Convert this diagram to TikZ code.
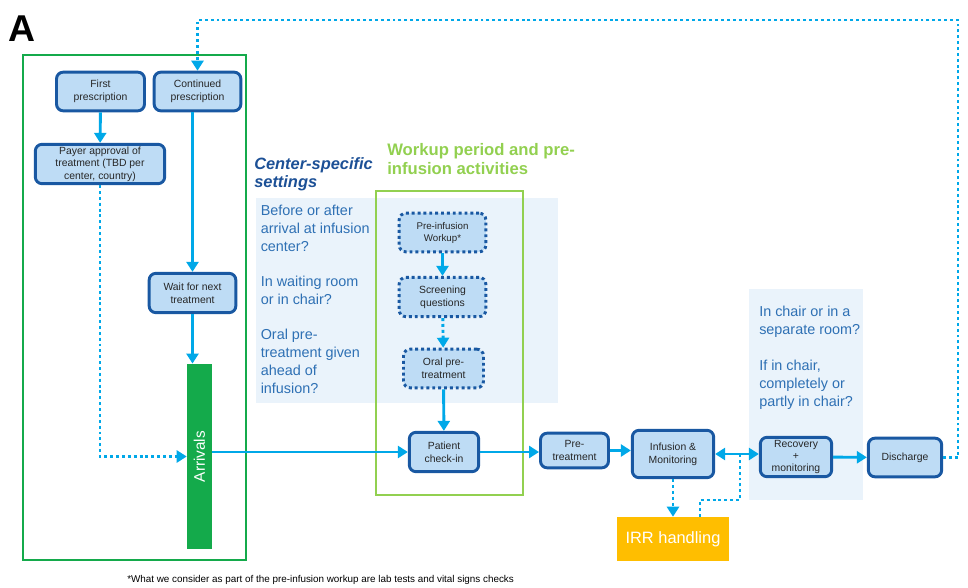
\documentclass[tikz,border=0pt]{standalone}
\usepackage{fontspec}
\setmainfont{Liberation Sans}
\usetikzlibrary{arrows.meta, calc, positioning}
\definecolor{flowblue}{RGB}{0,168,232}
\definecolor{boxfill}{RGB}{190,220,245}
\definecolor{boxline}{RGB}{25,88,162}
\definecolor{qblue}{RGB}{46,112,180}
\definecolor{headblue}{RGB}{28,80,150}
\definecolor{framegreen}{RGB}{20,170,75}
\definecolor{limegreen}{RGB}{146,208,80}
\definecolor{panelblue}{RGB}{234,243,251}
\definecolor{irrorange}{RGB}{255,190,0}

\begin{document}
\begin{tikzpicture}[x=0.75pt,y=-0.75pt,
    stepbox/.style={draw=boxline, fill=boxfill, line width=2.2pt, rounded corners=5pt, align=center,
        text=black!85, font=\fontsize{7.8}{9.5}\selectfont, inner sep=1pt},
    dotbox/.style={stepbox, dash pattern=on 2.2pt off 2.2pt},
    flow/.style={draw=flowblue, line width=2.2pt, -{Triangle[length=7.5pt,width=9pt]}},
    dotflow/.style={flow, dash pattern=on 2.2pt off 2.2pt},
    dotline/.style={draw=flowblue, line width=2.2pt, dash pattern=on 2.2pt off 2.2pt},
    question/.style={anchor=base west, align=left, inner sep=0pt, text=qblue, font=\fontsize{10.8}{13.3}\selectfont},
    greenframe/.style={line width=2.2pt}]
    \useasboundingbox (0,0) rectangle (968,588);
    % light panels behind the questions
    \fill[panelblue] (256,198) rectangle (558,403);
    \fill[panelblue] (749,289) rectangle (863,500);
    \draw[greenframe, draw=framegreen] (23,55) rectangle (246,560);
    \draw[greenframe, draw=limegreen] (376,191) rectangle (523,495);
    \node[anchor=base west, inner sep=0pt, font=\bfseries\fontsize{28}{30}\selectfont] (panel) at (8,42) {A};
    % prescription side
    \node[stepbox, minimum width=66pt, minimum height=29pt] (first) at (100.5,91.5) {First\\prescription};
    \node[stepbox, minimum width=65pt, minimum height=29pt] (cont) at (197.5,91.5) {Continued\\prescription};
    \node[stepbox, minimum width=97pt, minimum height=29.5pt] (payer) at (100,164) {Payer approval of\\treatment (TBD per\\center, country)};
    \node[stepbox, minimum width=65pt, minimum height=29.5pt] (wait) at (192.5,293) {Wait for next\\treatment};
    \node[fill=framegreen, minimum width=18.75pt, minimum height=139pt, inner sep=0pt] (arrivals) at (199.5,456.5) {};
    \node[rotate=90, text=white, font=\fontsize{11.5}{14}\selectfont] (arrivtext) at (arrivals) {Arrivals};
    % center-specific settings
    \node[anchor=base west, align=left, inner sep=0pt, text=headblue, font=\bfseries\itshape\fontsize{12.3}{13.5}\selectfont] (centerhead) at (254,188) {Center-specific\\settings};
    \node[question] (qleft) at (260.5,393) {Before or after\\arrival at infusion\\center?\\[13.3pt]In waiting room\\or in chair?\\[13.3pt]Oral pre-\\treatment given\\ahead of\\infusion?};
    \node[anchor=base west, align=left, inner sep=0pt, text=limegreen, font=\bfseries\fontsize{12.5}{14.3}\selectfont] (workuphead) at (387,175) {Workup period and pre-\\infusion activities};
    \node[dotbox, minimum width=65pt, minimum height=29pt, font=\fontsize{7.3}{9}\selectfont] (workup) at (442.5,232.5) {Pre-infusion\\Workup*};
    \node[dotbox, minimum width=65pt, minimum height=29.5pt] (screen) at (442.5,297) {Screening\\questions};
    \node[dotbox, minimum width=60pt, minimum height=29pt] (oral) at (443.5,368.5) {Oral pre-\\treatment};
    % main line
    \node[stepbox, minimum width=52pt, minimum height=29.5pt] (patient) at (444,452) {Patient\\check-in};
    \node[stepbox, minimum width=51pt, minimum height=26pt] (pretreat) at (574.5,450.5) {Pre-\\treatment};
    \node[stepbox, minimum width=61pt, minimum height=35.5pt] (infusion) at (673,454) {Infusion \&\\Monitoring};
    \node[stepbox, minimum width=53.5pt, minimum height=29.5pt, font=\fontsize{7.8}{9.3}\selectfont] (recovery) at (796,457) {Recovery\\+\\monitoring};
    \node[stepbox, minimum width=55pt, minimum height=29pt] (discharge) at (905,457.5) {Discharge};
    \node[fill=irrorange, minimum width=84pt, minimum height=33pt, text=white, font=\fontsize{12.3}{14}\selectfont] (irr) at (673,539) {IRR handling};
    \node[question, font=\fontsize{10.8}{13.5}\selectfont] (qright) at (759,406) {In chair or in a\\separate room?\\[13.5pt]If in chair,\\completely or\\partly in chair?};
    \node[anchor=base west, inner sep=0pt, font=\fontsize{7.4}{9}\selectfont] (note) at (127,582) {*What we consider as part of the pre-infusion workup are lab tests and vital signs checks};
    % connectors
    \draw[flow] (first) -- (payer);
    \draw[flow] (wait.north |- cont.south) -- (wait.north);
    \draw[flow] (wait.south) -- (wait.south |- arrivals.north);
    \draw[dotflow] (payer.south) |- (arrivals.west);
    \draw[flow] (arrivals.east |- patient.west) -- (patient.west);
    \draw[flow] (workup) -- (screen);
    \draw[dotflow] (screen) -- (oral);
    \draw[flow] (oral) -- (patient);
    \draw[flow] (patient.east) -- (patient.east -| pretreat.west);
    \draw[flow] (pretreat.east) -- (pretreat.east -| infusion.west);
    \draw[draw=flowblue, line width=2.2pt, {Triangle[length=7.5pt,width=9pt]}-{Triangle[length=7.5pt,width=9pt]}] (infusion.east) -- (infusion.east -| recovery.west);
    \draw[flow] (recovery) -- (discharge);
    \draw[dotflow] (infusion) -- (irr);
    \coordinate (irrjoin) at (740,455);
    \draw[dotline] ($(irr.north)+(27,0)$) |- (740,500) -- (irrjoin);
    \coordinate (loopcorner) at (958,20);
    \draw[dotflow] (discharge.east) -| (loopcorner) -| (cont.north);
\end{tikzpicture}
\end{document}
